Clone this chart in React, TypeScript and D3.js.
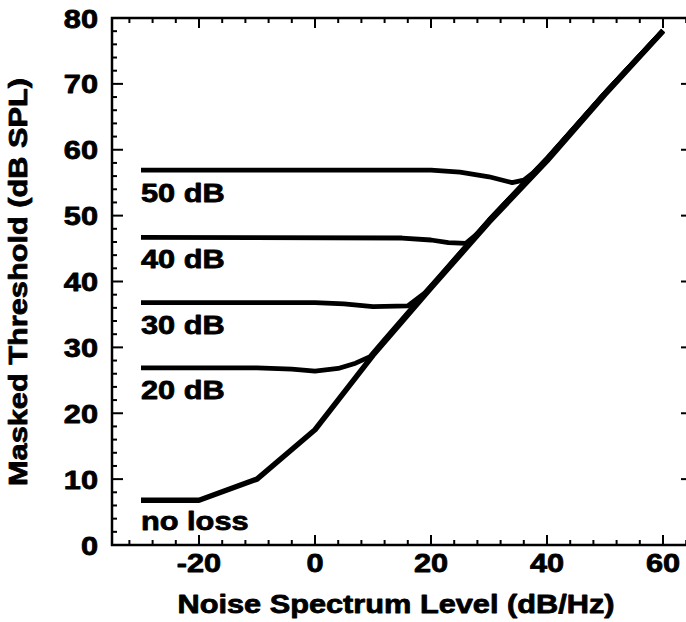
import * as d3 from 'd3';

// ── Data ──────────────────────────────────────────────────────────────────────
const X_TICKS = [-20, 0, 20, 40, 60];
const Y_TICKS = [0, 10, 20, 30, 40, 50, 60, 70, 80];

const NO_LOSS: [number, number][] = [
  [-30, 6.8], [-20, 6.8], [-10, 10], [0, 17.5], [10, 28.8], [20, 39.0],
  [30, 49.0], [40, 58.3], [50, 68.4], [60, 78.0],
];
const LOSS_20: [number, number][] = [
  [-30, 26.9], [-10, 26.9], [-4, 26.7], [0, 26.4], [4, 26.8], [7, 27.6],
  [9.5, 28.6], [12, 31.2], [20, 39.3], [30, 49.3], [40, 58.6], [50, 68.6], [60, 78.1],
];
const LOSS_30: [number, number][] = [
  [-30, 36.8], [0, 36.8], [5, 36.6], [10, 36.2], [16, 36.3], [19, 38.3],
  [21, 40.2], [24, 43.3], [30, 49.3], [40, 58.6], [50, 68.6], [60, 78.1],
];
const LOSS_40: [number, number][] = [
  [-30, 46.7], [15, 46.6], [20, 46.3], [23, 45.9], [26, 45.8], [29, 48.0],
  [31, 50.2], [40, 58.6], [50, 68.6], [60, 78.1],
];
const LOSS_50: [number, number][] = [
  [-30, 56.9], [20, 56.9], [25, 56.6], [30, 55.9], [34, 55.0], [36, 55.4],
  [37.6, 56.5], [40, 58.7], [50, 68.6], [60, 78.1],
];

const SERIES = [NO_LOSS, LOSS_20, LOSS_30, LOSS_40, LOSS_50];
const LABELS = ['no loss', '20 dB', '30 dB', '40 dB', '50 dB'];
const LABEL_AT: [number, number][] = [[-30, 2.3], [-30, 22.2], [-30, 32.0], [-30, 42.0], [-30, 52.0]];

// ── Layout ────────────────────────────────────────────────────────────────────
const W = 686;
const H = 622;
const X0 = 112, X1 = 692;
const Y0 = 545, Y1 = 18;

const FONT = '"Liberation Sans", Arial, Helvetica, sans-serif';
const FS = 26.5;
const STRETCH = 1.16;

const x = d3.scaleLinear().domain([-35, 65]).range([X0, X1]);
const y = d3.scaleLinear().domain([0, 80]).range([Y0, Y1]);

const line = d3.line<[number, number]>().x(d => x(d[0])).y(d => y(d[1]));

// the scanned figure uses a heavy, slightly wide sans: stretch + thin stroke
function Label({ tx, ty, rot = 0, anchor = 'start', children }:
  { tx: number; ty: number; rot?: number; anchor?: string; children: string }) {
  return (
    <g transform={`translate(${tx},${ty}) rotate(${rot}) scale(${STRETCH},1)`}>
      <text textAnchor={anchor} fontFamily={FONT} fontWeight={700} fontSize={FS}
        fill="#000" stroke="#000" strokeWidth={0.8} strokeLinejoin="round">
        {children}
      </text>
    </g>
  );
}

export default function App() {
  const xMinor = d3.range(-32, 65, 4);
  const yMinor = d3.range(0, 81, 2);

  return (
    <svg width={W} height={H} viewBox={`0 0 ${W} ${H}`}
      style={{ position: 'absolute', left: 0, top: 0, background: '#fff' }}>
      <rect x={0} y={0} width={W} height={H} fill="#fff" />

      {/* frame */}
      <rect x={X0} y={Y1} width={X1 - X0} height={Y0 - Y1} fill="none" stroke="#000" strokeWidth={2.5} />

      {/* x ticks, top and bottom, pointing inward */}
      {xMinor.map(v => {
        const len = X_TICKS.includes(v) ? 10 : 5;
        return (
          <g key={`x${v}`} stroke="#000" strokeWidth={2}>
            <line x1={x(v)} x2={x(v)} y1={Y0} y2={Y0 - len} />
            <line x1={x(v)} x2={x(v)} y1={Y1} y2={Y1 + len} />
          </g>
        );
      })}

      {/* y ticks, left and right */}
      {yMinor.map(v => {
        const len = Y_TICKS.includes(v) ? 11 : 5;
        return (
          <g key={`y${v}`} stroke="#000" strokeWidth={2}>
            <line x1={X0} x2={X0 + len} y1={y(v)} y2={y(v)} />
            <line x1={X1} x2={X1 - len} y1={y(v)} y2={y(v)} />
          </g>
        );
      })}

      {/* tick labels */}
      {X_TICKS.map(v => (
        <Label key={`xl${v}`} tx={x(v)} ty={572} anchor="middle">{String(v)}</Label>
      ))}
      {Y_TICKS.map(v => (
        <Label key={`yl${v}`} tx={98} ty={y(v) + 9.5} anchor="end">{String(v)}</Label>
      ))}

      {/* curves */}
      {SERIES.map((s, i) => (
        <path key={`s${i}`} d={line(s) ?? ''} fill="none" stroke="#000"
          strokeWidth={i === 0 ? 5.4 : 4.8} strokeLinejoin="round" strokeLinecap="butt" />
      ))}

      {/* curve labels */}
      {LABELS.map((t, i) => (
        <Label key={`cl${i}`} tx={x(LABEL_AT[i][0])} ty={y(LABEL_AT[i][1])}>{t}</Label>
      ))}

      {/* axis titles */}
      <Label tx={396} ty={613} anchor="middle">Noise Spectrum Level (dB/Hz)</Label>
      <Label tx={27} ty={282} rot={-90} anchor="middle">Masked Threshold (dB SPL)</Label>
    </svg>
  );
}
